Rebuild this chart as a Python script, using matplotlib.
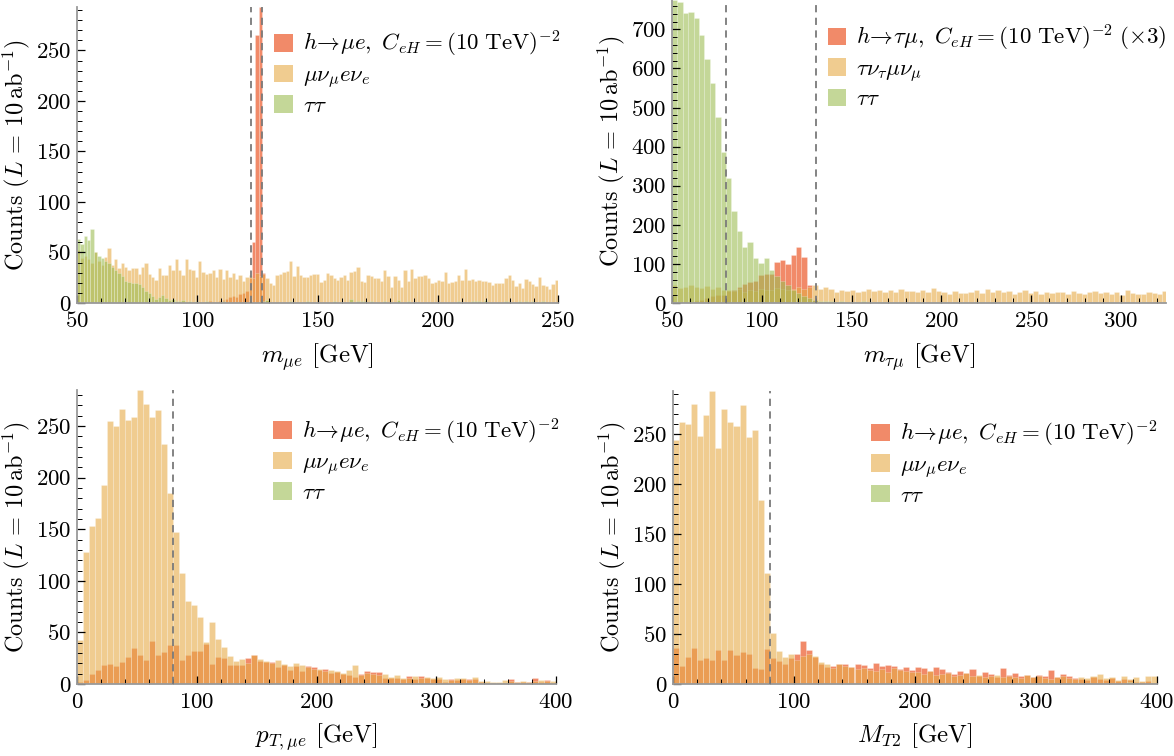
import numpy as np
import matplotlib
matplotlib.use("Agg")
import matplotlib.pyplot as plt
from matplotlib.patches import Patch
from matplotlib.ticker import MultipleLocator

plt.rcParams['font.family'] = 'serif'
plt.rcParams['font.serif'] = ['cmr10']
plt.rcParams['mathtext.fontset'] = 'cm'
plt.rcParams['axes.formatter.use_mathtext'] = True

# ---------------- data (counts per bin) ----------------
# panel 1: m_mue, 143 bins between 50 and 250 GeV
mue_range = [50, 250]
mue_sig = [0] * 36 + [1, 0, 1, 2, 1, 0, 2, 3,
                      4, 6, 7, 6, 9, 10, 12, 25, 60, 265, 293, 30, 2] + [0] * 86
mue_ww = [52, 45, 47, 44, 40, 50, 42, 38, 46, 54,
          38, 44, 35, 40, 36, 33, 35, 35, 29, 36,
          40, 29, 26, 23, 35, 28, 28, 38, 33, 44,
          33, 28, 44, 34, 33, 26, 42, 31, 29, 30,
          33, 26, 34, 24, 33, 26, 30, 24, 28, 22,
          26, 28, 25, 30, 27, 29, 25, 20, 18, 28,
          29, 31, 32, 42, 27, 37, 28, 26, 26, 28,
          29, 29, 21, 23, 30, 28, 25, 23, 26, 28,
          23, 31, 32, 36, 22, 21, 28, 27, 25, 25,
          22, 33, 27, 16, 27, 23, 16, 33, 22, 34,
          25, 27, 27, 28, 25, 20, 21, 23, 22, 31,
          20, 21, 22, 28, 23, 34, 23, 24, 22, 23,
          22, 22, 21, 18, 20, 20, 20, 25, 28, 23,
          17, 20, 15, 24, 22, 19, 17, 26, 18, 17,
          14, 19, 23]
mue_tautau = [63, 58, 66, 62, 73, 50, 47, 45, 42, 40,
              36, 33, 30, 27, 22, 21, 20, 20, 19, 16,
              12, 10, 7, 4, 6, 8, 5, 3, 4, 2,
              2, 3, 1, 2, 1, 2, 0, 1, 2, 0,
              0, 0, 0, 2, 0, 0, 0, 1, 0, 0,
              0, 0, 0, 0, 0, 2, 3, 0, 0, 0,
              0, 0, 0, 2, 0, 0, 0, 1, 2, 0,
              0, 0, 0, 0, 0, 0, 2, 0, 0, 0,
              0, 4, 0, 2, 2, 2, 0, 2, 0, 0,
              0, 2, 0, 0, 0, 3, 0, 0, 2, 0,
              0, 0, 0, 0, 0, 0, 0, 0, 0, 0,
              0, 0, 0, 2, 0, 0, 0, 2, 2, 2,
              0, 3, 0, 0, 0, 0, 0, 2, 0, 0,
              0, 2, 0, 2, 0, 2, 0, 0, 2, 0,
              0, 0, 0]
mue_cuts = [122.3, 127.1]

# panel 2: m_taumu, 3 GeV bins starting at 50 GeV
taumu_start, taumu_width = 50, 3
taumu_sig = [0, 0, 2, 3, 5, 8, 12, 18, 20, 20,
             30, 33, 40, 48, 53, 55, 72, 73, 73, 104,
             110, 100, 124, 142, 117, 45, 7, 3, 1, 0] + [0] * 62
taumu_ww = [45, 39, 42, 47, 40, 38, 44, 36, 40, 33,
            32, 30, 35, 28, 33, 30, 36, 32, 34, 38,
            35, 33, 37, 40, 36, 42, 45, 36, 42, 35,
            28, 32, 30, 33, 29, 31, 35, 30, 32, 27,
            33, 29, 36, 30, 31, 27, 34, 29, 38, 31,
            28, 24, 30, 26, 25, 28, 32, 26, 35, 29,
            33, 27, 30, 24, 28, 32, 26, 30, 23, 27,
            25, 29, 28, 24, 31, 26, 22, 27, 30, 25,
            28, 23, 27, 21, 32, 26, 24, 22, 28, 25,
            23, 30]
taumu_tautau = [775, 770, 742, 745, 728, 685, 625, 563, 475, 386,
                320, 236, 185, 142, 156, 115, 102, 115, 85, 70,
                55, 45, 32, 25, 18, 12, 8, 6, 5, 4,
                3, 4, 2, 3, 2, 4, 3, 2, 3, 2,
                2, 3, 2, 1, 3, 2, 2, 1, 2, 3,
                2, 1, 2, 2, 3, 1, 2, 2, 1, 2,
                1, 2, 2, 1, 2, 1, 3, 1, 2, 1,
                2, 1, 1, 2, 1, 2, 1, 1, 2, 1,
                1, 2, 1, 1, 2, 1, 1, 2, 1, 1,
                1, 2]
taumu_cuts = [80, 130]

# panel 3: pT,mue, 5 GeV bins from 0 to 400 GeV
pt_range = [0, 400]
pt_sig = [2, 4, 10, 14, 18, 19, 17, 21, 26, 35,
          28, 23, 42, 28, 31, 38, 38, 23, 28, 32,
          32, 39, 19, 26, 25, 18, 18, 18, 25, 28,
          22, 21, 21, 16, 18, 14, 17, 13, 17, 16,
          14, 15, 11, 12, 10, 9, 7, 10, 13, 12,
          12, 6, 6, 6, 5, 8, 5, 8, 6, 5,
          5, 2, 5, 4, 5, 5, 5, 2, 1, 1,
          1, 1, 5, 2, 2, 2, 6, 2, 4, 1]
pt_ww = [43, 128, 153, 161, 193, 255, 250, 267, 256, 259,
         285, 271, 259, 266, 233, 185, 147, 108, 80, 77,
         65, 41, 60, 44, 36, 27, 22, 24, 20, 28,
         24, 22, 20, 23, 19, 17, 20, 18, 16, 15,
         15, 13, 14, 13, 11, 14, 18, 9, 11, 10,
         9, 10, 7, 9, 6, 6, 8, 6, 7, 6,
         7, 5, 4, 6, 6, 4, 7, 3, 3, 2,
         2, 4, 3, 2, 3, 2, 3, 4, 3, 3]
pt_tautau = [0] * 80
pt_cuts = [80]

# panel 4: MT2, 5 GeV bins from 0 to 400 GeV
mt2_range = [0, 400]
mt2_sig = [36, 18, 27, 36, 24, 26, 24, 34, 24, 34,
           29, 32, 30, 16, 15, 35, 26, 23, 20, 26,
           30, 43, 34, 27, 20, 17, 18, 20, 20, 17,
           20, 19, 16, 21, 18, 19, 18, 15, 17, 14,
           17, 16, 13, 17, 15, 12, 10, 13, 11, 15,
           8, 12, 10, 7, 16, 9, 11, 8, 9, 7,
           9, 8, 14, 7, 10, 8, 6, 5, 4, 7,
           5, 4, 6, 3, 5, 4, 2, 2, 3, 1]
mt2_ww = [244, 262, 260, 280, 248, 269, 293, 236, 275, 262,
          258, 279, 247, 254, 184, 111, 51, 33, 27, 30,
          24, 28, 30, 28, 22, 20, 16, 20, 18, 17,
          15, 16, 14, 13, 15, 12, 16, 14, 13, 12,
          12, 10, 13, 9, 10, 11, 8, 9, 11, 8,
          9, 7, 8, 9, 7, 8, 7, 6, 9, 7,
          8, 6, 5, 7, 8, 6, 5, 7, 6, 8,
          10, 6, 7, 4, 8, 5, 7, 3, 8, 8]
mt2_tautau = [0] * 75 + [2, 1, 0, 0, 0]
mt2_cuts = [80]

# ---------------- style ----------------
alpha = 0.6
c_sig = (0.91, 0.24, 0.02)
c_ww = (0.90, 0.67, 0.28)
c_tt = (0.62, 0.74, 0.33)
edge = (1, 1, 1, 0.3)

W, H = 1174, 756
fig = plt.figure(figsize=(W / 100, H / 100), dpi=100)


def px_axes(l, r, t, b):
    return fig.add_axes([l / W, 1 - b / H, (r - l) / W, (b - t) / H])


def draw_hist(ax, edges, vals, col):
    edges = np.asarray(edges, dtype=float)
    ax.bar(edges[:-1], vals, width=np.diff(edges), align='edge',
           facecolor=col + (alpha,), edgecolor=edge, linewidth=0.5)


def style(ax, xlim, ylim, xmaj, xmin, ymaj, ymin, xlabel):
    ax.set_xlim(xlim)
    ax.set_ylim(ylim)
    for s in ['top', 'right']:
        ax.spines[s].set_visible(False)
    for s in ['left', 'bottom']:
        ax.spines[s].set_color('#9a9a9a')
        ax.spines[s].set_linewidth(1.3)
    ax.xaxis.set_major_locator(MultipleLocator(xmaj))
    ax.xaxis.set_minor_locator(MultipleLocator(xmin))
    ax.yaxis.set_major_locator(MultipleLocator(ymaj))
    ax.yaxis.set_minor_locator(MultipleLocator(ymin))
    ax.tick_params(which='both', direction='in', top=False, right=False,
                   labelsize=16.5, color='black')
    ax.tick_params(axis='y', pad=4)
    ax.tick_params(axis='x', pad=6)
    ax.tick_params(which='major', length=6, width=0.9)
    ax.tick_params(which='minor', length=3.5, width=0.7)
    ax.set_xlabel(xlabel, fontsize=18, labelpad=7)
    ax.set_ylabel(r"Counts ($L$ = 10$\,$ab$^{-1}$)", fontsize=17.5, labelpad=3)


def legend(ax, labels, anchor):
    handles = [Patch(facecolor=c + (alpha,), edgecolor='none') for c in (c_sig, c_ww, c_tt)]
    ax.legend(handles, labels, loc='upper left', bbox_to_anchor=anchor,
              frameon=False, fontsize=16.5, handlelength=0.8, handleheight=0.8,
              handletextpad=0.45, labelspacing=0.22, borderaxespad=0, borderpad=0)


def cutlines(ax, xs):
    for x in xs:
        ax.axvline(x, color='#7a7a7a', lw=1.3, ls=(0, (4, 3)), zorder=5)


lab_mue = [r"$h\!\rightarrow\!\mu e,\ C_{eH}=(10\ \mathrm{TeV})^{-2}$",
           r"$\mu\nu_\mu e\nu_e$", r"$\tau\tau$"]
lab_taumu = [r"$h\!\rightarrow\!\tau\mu,\ C_{eH}=(10\ \mathrm{TeV})^{-2}\ (\times 3)$",
             r"$\tau\nu_\tau\mu\nu_\mu$", r"$\tau\tau$"]

# panel 1
ax1 = px_axes(77, 558, 7, 303)
e1 = np.linspace(mue_range[0], mue_range[1], len(mue_ww) + 1)
for v, c in [(mue_sig, c_sig), (mue_ww, c_ww), (mue_tautau, c_tt)]:
    draw_hist(ax1, e1, v, c)
cutlines(ax1, mue_cuts)
style(ax1, mue_range, (0, max(mue_sig)), 50, 10, 50, 10, r"$m_{\mu e}$ [GeV]")
legend(ax1, lab_mue, (0.41, 0.925))

# panel 2
ax2 = px_axes(672, 1166, 0, 303)
e2 = taumu_start + taumu_width * np.arange(len(taumu_ww) + 1)
for v, c in [(taumu_sig, c_sig), (taumu_ww, c_ww), (taumu_tautau, c_tt)]:
    draw_hist(ax2, e2, v, c)
cutlines(ax2, taumu_cuts)
style(ax2, (50, 325), (0, max(taumu_tautau)), 50, 10, 100, 20, r"$m_{\tau\mu}$ [GeV]")
legend(ax2, lab_taumu, (0.315, 0.925))

# panel 3
ax3 = px_axes(77, 556, 390, 684)
e3 = np.linspace(pt_range[0], pt_range[1], len(pt_ww) + 1)
for v, c in [(pt_sig, c_sig), (pt_ww, c_ww), (pt_tautau, c_tt)]:
    draw_hist(ax3, e3, v, c)
cutlines(ax3, pt_cuts)
style(ax3, pt_range, (0, max(pt_ww)), 100, 20, 50, 10, r"$p_{T,\mu e}$ [GeV]")
legend(ax3, lab_mue, (0.41, 0.91))

# panel 4
ax4 = px_axes(673, 1157, 391, 684)
e4 = np.linspace(mt2_range[0], mt2_range[1], len(mt2_ww) + 1)
for v, c in [(mt2_sig, c_sig), (mt2_ww, c_ww), (mt2_tautau, c_tt)]:
    draw_hist(ax4, e4, v, c)
cutlines(ax4, mt2_cuts)
style(ax4, mt2_range, (0, max(mt2_ww)), 100, 20, 50, 10, r"$M_{T2}$ [GeV]")
legend(ax4, lab_mue, (0.41, 0.905))

fig.savefig("out.png", dpi=100)
